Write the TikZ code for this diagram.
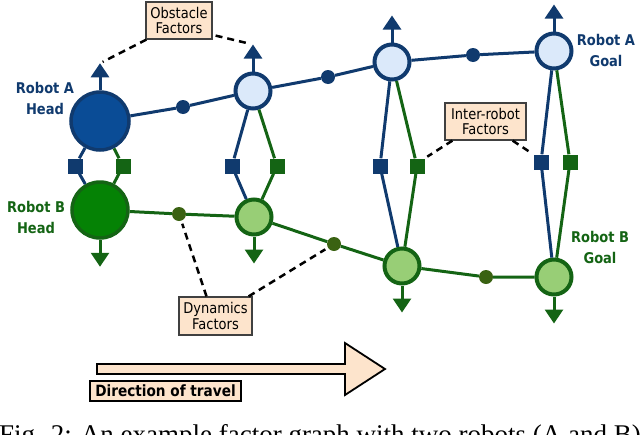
\documentclass[tikz,border=0pt]{standalone}
\usepackage{fontspec}
\setmainfont[FakeStretch=0.88]{DejaVu Sans}
\newfontfamily\capfont{Liberation Serif}
\usetikzlibrary{calc}
\usetikzlibrary{arrows.meta}
\definecolor{robA}{RGB}{16,58,110}
\definecolor{robAfill}{RGB}{10,76,150}
\definecolor{robAlight}{RGB}{219,233,250}
\definecolor{robB}{RGB}{20,100,20}
\definecolor{robBfill}{RGB}{5,130,5}
\definecolor{robBlight}{RGB}{152,206,118}
\definecolor{olive}{RGB}{58,98,18}
\definecolor{peach}{RGB}{253,228,204}

\begin{document}
\begin{tikzpicture}[x=1pt, y=-1pt,
    every node/.style={inner sep=0pt},
    headA/.style={circle, draw=robA, fill=robAfill, line width=3.5pt, minimum size=58pt},
    headB/.style={circle, draw=robB, fill=robBfill, line width=3.5pt, minimum size=56pt},
    varA/.style={circle, draw=robA, fill=robAlight, line width=4pt, minimum size=35pt},
    varB/.style={circle, draw=robB, fill=robBlight, line width=4pt, minimum size=35pt},
    dotA/.style={circle, fill=robA, minimum size=14pt},
    dotB/.style={circle, fill=olive, minimum size=14pt},
    sqA/.style={rectangle, fill=robA, minimum size=15pt},
    sqB/.style={rectangle, fill=robB, minimum size=15pt},
    lineA/.style={draw=robA, line width=3pt},
    lineB/.style={draw=robB, line width=3pt},
    upA/.style={robA, line width=3pt, -{Triangle[width=18pt, length=14pt]}},
    downB/.style={robB, line width=3pt, -{Triangle[width=18pt, length=14pt]}},
    robotlabel/.style={align=center, font=\bfseries\fontsize{14.8}{21}\selectfont},
    factorbox/.style={draw=black!75, fill=peach, line width=1.2pt, align=center,
        font=\fontsize{14.8}{15.5}\selectfont},
    dashedlink/.style={black, line width=2.5pt, dash pattern=on 7pt off 5pt, shorten >=3pt}]
    \useasboundingbox (0,0) rectangle (640,434);

    % variable nodes
    \node[headA] (a0) at (100,121) {};
    \node[headB] (b0) at (100,210) {};
    \foreach \n/\xa/\ya/\xb/\yb in {1/253/91/254/217, 2/392/62/402/266, 3/554/51/554/277} {
        \node[varA] (a\n) at (\xa,\ya) {};
        \node[varB] (b\n) at (\xb,\yb) {};
    }

    % dynamics factors
    \foreach \n/\xa/\ya/\xb/\yb in {1/183/107/179/214, 2/328/77/334/244, 3/473/55/486/277} {
        \node[dotA] (da\n) at (\xa,\ya) {};
        \node[dotB] (db\n) at (\xb,\yb) {};
    }

    % inter-robot factors
    \foreach \n/\xa/\xb/\y in {0/75/123/166, 1/232/277/166, 2/380/417/166, 3/541/570/162} {
        \node[sqA] (sa\n) at (\xa,\y) {};
        \node[sqB] (sb\n) at (\xb,\y) {};
    }

    \foreach \n in {0,...,3} {
        \draw[lineA] (a\n) -- (sa\n) -- (b\n);
        \draw[lineB] (a\n) -- (sb\n) -- (b\n);
    }
    \draw[lineA] (a0) -- (da1) -- (a1) -- (da2) -- (a2) -- (da3) -- (a3);
    \draw[lineB] (b0) -- (db1) -- (b1) -- (db2) -- (b2) -- (db3) -- (b3);

    % obstacle factors
    \foreach \n in {0,...,3} {
        \coordinate (ta\n) at ($(a\n.north)+(0,-27)$);
        \coordinate (tb\n) at ($(b\n.south)+(0,27)$);
        \draw[upA] (a\n) -- (ta\n);
        \draw[downB] (b\n) -- (tb\n);
    }

    % robot labels
    \node[robotlabel, robA] (headlabA) at (45,98) {Robot A\\Head};
    \node[robotlabel, robB] (headlabB) at (36,217) {Robot B\\Head};
    \node[robotlabel, robA] (goallabA) at (606,50) {Robot A\\Goal};
    \node[robotlabel, robB] (goallabB) at (600,247) {Robot B\\Goal};

    % factor labels
    \node[factorbox, minimum width=66pt, minimum height=37pt] (obst) at (179,20.5) {Obstacle\\Factors};
    \node[factorbox, minimum width=81pt, minimum height=37pt] (inter) at (485.5,121.5) {Inter-robot\\Factors};
    \node[factorbox, minimum width=73pt, minimum height=38pt] (dyn) at (215.5,316) {Dynamics\\Factors};

    \draw[dashedlink] ($(obst.south west)+(1,0)$) -- (ta0);
    \draw[dashedlink] ($(obst.south east)+(3,-4)$) -- (ta1);
    \draw[dashedlink] ($(inter.south west)+(8,0)$) -- (sb2.north east);
    \draw[dashedlink] ($(inter.south east)+(-14,0)$) -- (sa3.north west);
    \draw[dashedlink] ($(dyn.north)+(-9,0)$) -- (db1);
    \draw[dashedlink] ($(dyn.north east)+(-4,0)$) -- (db2);

    % direction of travel
    \draw[line width=1.8pt, fill=peach] (97,364) -- (345,364) -- (345,343) -- (385,369)
        -- (345,395) -- (345,374) -- (97,374) -- cycle;
    \node[draw, line width=1.8pt, fill=peach, minimum width=151pt, minimum height=20pt,
        font=\bfseries\fontsize{15.5}{18}\selectfont] (travel) at (165.5,391) {Direction of travel};

    % caption
    \node[anchor=base, font=\capfont\fontsize{27}{30}\selectfont] (caption) at (320,443)
        {Fig. 2: An example factor graph with two robots (A and B)};
\end{tikzpicture}
\end{document}
